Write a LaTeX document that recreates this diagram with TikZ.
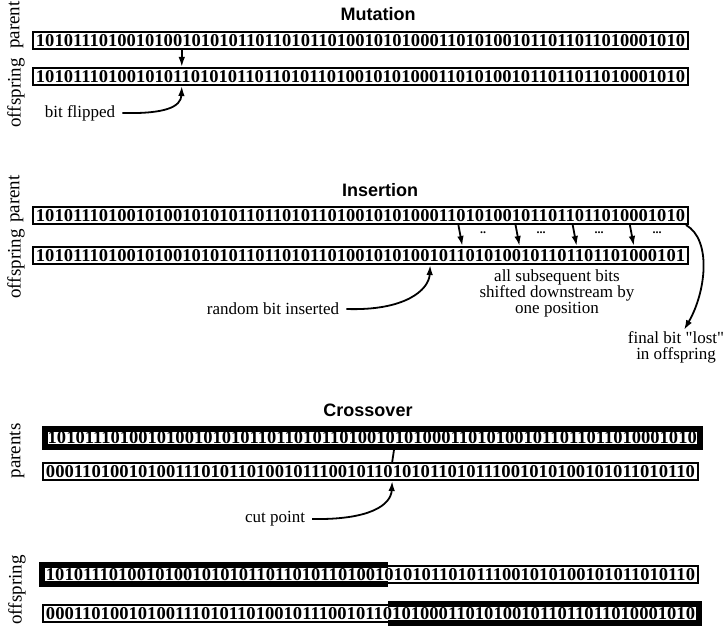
\documentclass[tikz,border=0pt]{standalone}
\usepackage{fontspec}
\setmainfont{Liberation Serif}
\newfontfamily\headfont{Liberation Sans}
\usepackage{graphicx}
\usetikzlibrary{arrows.meta,calc}

% a bit string squeezed into the width of its strip
\newcommand{\bitrow}[1]{\resizebox{649pt}{12pt}{\bfseries #1}}

\tikzset{
  strip/.style={draw, line width=2pt, inner sep=0pt, minimum width=655pt,
                minimum height=17pt, anchor=north west},
  heavystrip/.style={strip, line width=5.5pt, minimum height=18pt},
  heavyline/.style={line width=5.5pt},
  heading/.style={font=\headfont\bfseries\fontsize{18}{20}\selectfont},
  side/.style={font=\fontsize{19}{20}\selectfont, rotate=90},
  note/.style={font=\fontsize{17}{17}\selectfont, align=center, inner sep=1pt},
  dots/.style={font=\bfseries\fontsize{12}{12}\selectfont, inner sep=0pt},
  link/.style={-{Latex[length=10pt,width=6.5pt]}, line width=1.8pt},
}

\begin{document}
\begin{tikzpicture}[x=1pt,y=-1pt]
\useasboundingbox (0,0) rectangle (727,628);

% ---------------- Mutation ----------------
\node[heading] (tm) at (378,14) {Mutation};
\node[strip] (mp) at (32,31)
  {\bitrow{10101110100101001010101101101011010010101000110101001011011011010001010}};
\node[strip] (mo) at (32,67)
  {\bitrow{10101110100101011010101101101011010010101000110101001011011011010001010}};
\node[side] (lmp) at (16,25) {parent};
\node[side] (lmo) at (16,93) {offspring};
\draw[link] ($(mp.south west)!0.228!(mp.south east)$) -- ($(mo.north west)!0.228!(mo.north east)$);
\node[note] (bf) at (80,113) {bit flipped};
\draw[link] ([xshift=6pt]bf.east) .. controls (165,114) and (181,107) ..
  ($(mo.south west)!0.228!(mo.south east)$);

% ---------------- Insertion ----------------
\node[heading] (ti) at (380,190) {Insertion};
\node[strip] (ip) at (32,206)
  {\bitrow{10101110100101001010101101101011010010101000110101001011011011010001010}};
\node[strip] (io) at (32,246)
  {\bitrow{10101110100101001010101101101011010010101001011010100101101101101000101}};
\node[side] (lip) at (16,199) {parent};
\node[side] (lio) at (16,264) {offspring};
\foreach \f/\g in {0.649/0.655, 0.736/0.742, 0.823/0.829, 0.910/0.916}
  \draw[link] ($(ip.south west)!\f!(ip.south east)$) -- ($(io.north west)!\g!(io.north east)$);
\node[dots] (d1) at (483,233) {..};
\node[dots] (d2) at (541,233) {...};
\node[dots] (d3) at (599,233) {...};
\node[dots] (d4) at (657,233) {...};
\node[note, align=center] (shift) at (557,293)
  {all subsequent bits\\[-1pt]shifted downstream by\\[-1pt]one position};
\node[note] (rb) at (273,309) {random bit inserted};
\draw[link] ([xshift=6pt]rb.east) .. controls (405,311) and (429,290) ..
  ($(io.south west)!0.606!(io.south east)$);
\node[note] (fb) at (676,347) {final bit \textquotedbl lost\textquotedbl\\[-1pt]in offspring};
\draw[link] ([xshift=-3pt]ip.south east) .. controls (712,240) and (706,292) .. ([xshift=8pt]fb.north);

% ---------------- Crossover ----------------
\node[heading] (tc) at (368,410) {Crossover};
\node[heavystrip] (cp) at (42,426)
  {\bitrow{10101110100101001010101101101011010010101000110101001011011011010001010}};
\node[strip] (cq) at (42,462)
  {\bitrow{00011010010100111010110100101110010110101011010111001010100101011010110}};
\node[side] (lcp) at (17,451) {parents};
\draw[line width=1.8pt] ($(cp.south west)!0.533!(cp.south east)$) -- ($(cq.north west)!0.533!(cq.north east)$);
\node[note] (cut) at (275,519) {cut point};
\draw[link] ([xshift=6pt]cut.east) .. controls (370,520) and (391,505) ..
  ($(cq.south west)!0.533!(cq.south east)$);

\node[strip] (oa) at (42,565)
  {\bitrow{10101110100101001010101101101011010010101011010111001010100101011010110}};
\node[strip] (ob) at (42,604)
  {\bitrow{00011010010100111010110100101110010110101000110101001011011011010001010}};
% heavy frame on the segment inherited from the first parent
\draw[heavyline] ($(oa.north west)!0.527!(oa.north east)$) -- (oa.north west)
  -- (oa.south west) -- ($(oa.south west)!0.527!(oa.south east)$);
\draw[heavyline] ($(ob.north west)!0.527!(ob.north east)$) -- (ob.north east)
  -- (ob.south east) -- ($(ob.south west)!0.527!(ob.south east)$);
\node[side] (lco) at (17,590) {offspring};
\end{tikzpicture}
\end{document}
